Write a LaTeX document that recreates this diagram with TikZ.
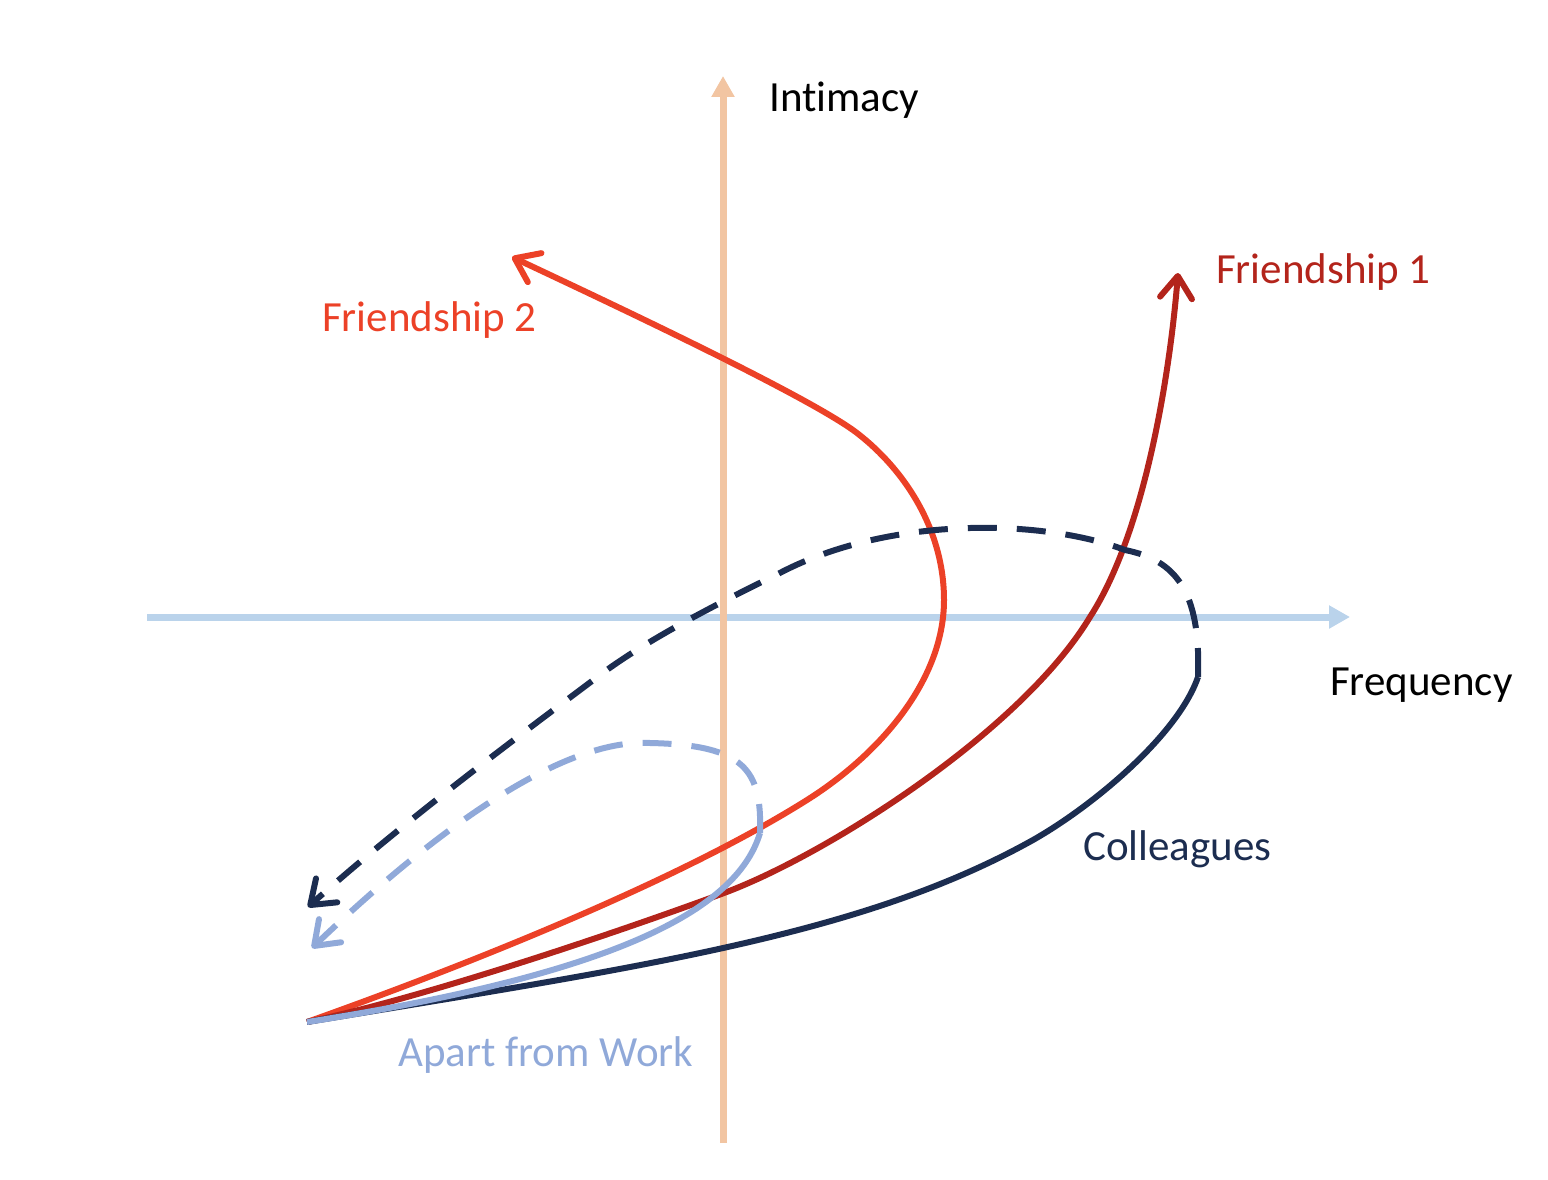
\documentclass[tikz,border=0pt]{standalone}
\usepackage{fontspec}
\setmainfont{Carlito}[Ligatures=NoCommon]
\usetikzlibrary{arrows.meta}
\definecolor{axisv}{HTML}{F2C5A2}
\definecolor{axish}{HTML}{BAD3EB}
\definecolor{navy}{HTML}{1C2D50}
\definecolor{darkred}{HTML}{B3241B}
\definecolor{orred}{HTML}{EC4127}
\definecolor{lblue}{HTML}{90A9D9}
\tikzset{
  axisline/.style={line width=7pt,-{Triangle[length=21pt,width=22pt]}},
  curve/.style={line width=6pt},
  barb/.style={-{Straight Barb[length=22pt,width=32pt,round]}},
  dashcurve/.style={line width=6pt,dash pattern=on 29pt off 20pt},
  lbl/.style={font=\fontsize{43}{50}\selectfont,inner sep=0pt,anchor=west}
}
\begin{document}
\begin{tikzpicture}[x=1pt,y=-1pt]
\useasboundingbox (0,0) rectangle (1548,1180);
% axes
\coordinate (hstart) at (147,617);
\coordinate (hend) at (1350,617);
\coordinate (vstart) at (723,1143);
\coordinate (vend) at (723,76);
\draw[axisline,axish] (hstart) -- (hend);
\draw[axisline,axisv] (vstart) -- (vend);
% labels
\node[lbl] (intimacy) at (769,100) {Intimacy};
\node[lbl] (freq) at (1330,685) {Frequency};
\node[lbl,text=orred] (f2) at (322,320) {Friendship 2};
\node[lbl,text=darkred] (f1) at (1216,272) {Friendship 1};
\node[lbl,text=navy] (coll) at (1083,849) {Colleagues};
\node[lbl,text=lblue] (apart) at (398,1055) {Apart from Work};
% key points
\coordinate (o) at (307,1022);
\coordinate (f2tip) at (512,257);
\coordinate (f1tip) at (1178,273);
\coordinate (ctip) at (308,907);
\coordinate (atip) at (312,948);
\coordinate (cturn) at (1198,677);
\coordinate (aturn) at (760,833);
% Friendship 2
\draw[curve,orred,barb] (o) .. controls (470,964) and (680,880) .. (807,800)
  .. controls (880,754) and (944,680) .. (944,600)
  .. controls (944,530) and (905,470) .. (857,433)
  .. controls (810,397) and (612,304) .. (f2tip);
% Friendship 1
\draw[curve,darkred,barb] (o) .. controls (427,997) and (624,930) .. (724,893)
  .. controls (824,856) and (1020,733) .. (1090,617)
  .. controls (1145,532) and (1170,373) .. (f1tip);
% Colleagues
\draw[curve,navy] (o) .. controls (647,966) and (863,935) .. (1033,840)
  .. controls (1093,806) and (1178,735) .. (cturn);
\draw[dashcurve,navy,barb] (cturn) .. controls (1201,590) and (1175,560) .. (1125,550)
  .. controls (1040,518) and (885,516) .. (776,575)
  .. controls (700,612) and (640,645) .. (600,675)
  .. controls (500,750) and (400,825) .. (ctip);
% Apart from work
\draw[curve,lblue] (o) .. controls (607,975) and (736,913) .. (aturn);
\draw[dashcurve,lblue,barb] (aturn) .. controls (762,770) and (745,745) .. (650,743)
  .. controls (560,738) and (430,835) .. (atip);
\end{tikzpicture}
\end{document}
